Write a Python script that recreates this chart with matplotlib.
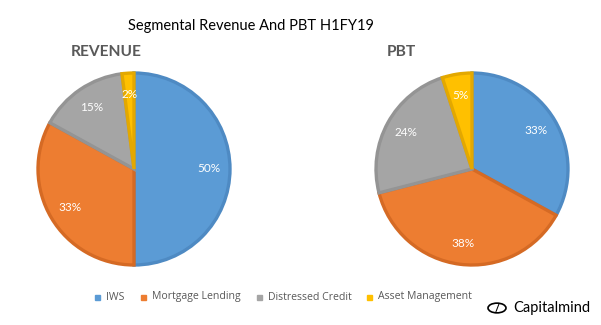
import matplotlib.pyplot as plt
from matplotlib.patches import Circle

segments = ['IWS', 'Mortgage Lending', 'Distressed Credit', 'Asset Management']
revenue_share = [50, 33, 15, 2]
pbt_share = [33, 38, 24, 5]

fill_colors = ['#5B9BD5', '#ED7D31', '#A5A5A5', '#FFC000']
edge_colors = ['#4E8AC3', '#D56A24', '#949494', '#E3A800']

W, H = 601, 325
fig = plt.figure(figsize=(W / 100, H / 100), dpi=100)
plt.rcParams['font.family'] = ['Lato', 'DejaVu Sans']


def draw_pie(cx, cy, values, r=96, box=100):
    # pie axes placed in pixel coordinates, y measured from the top
    ax = fig.add_axes([(cx - box) / W, 1 - (cy + box) / H, 2 * box / W, 2 * box / H])
    wedges, texts, autotexts = ax.pie(
        values, colors=fill_colors, startangle=90, counterclock=False,
        autopct=lambda p: f'{p:.0f}%', pctdistance=0.78,
        wedgeprops=dict(linewidth=2.4),
        textprops=dict(color='white', fontsize=8.5))
    for w, ec in zip(wedges, edge_colors):
        w.set_edgecolor(ec)
    lim = box / r
    ax.set_xlim(-lim, lim)
    ax.set_ylim(-lim, lim)
    ax.set_aspect('equal')
    ax.axis('off')
    return ax


draw_pie(134, 169, revenue_share)
draw_pie(472, 169, pbt_share)

fig.text(251 / W, 1 - 26 / H, 'Segmental Revenue And PBT H1FY19',
         ha='center', va='center', fontsize=10.5, color='black')
fig.text(106 / W, 1 - 52 / H, 'REVENUE', ha='center', va='center',
         fontsize=11.2, fontweight='bold', color='#595959')
fig.text(401 / W, 1 - 52 / H, 'PBT', ha='center', va='center',
         fontsize=11.2, fontweight='bold', color='#595959')

# legend along the bottom
legend_x = [97, 143, 259, 369]
for x, name, c in zip(legend_x, segments, fill_colors):
    fig.patches.append(plt.Rectangle(((x - 2.5) / W, 1 - 300 / H), 5 / W, 5 / H,
                                     transform=fig.transFigure, color=c))
    fig.text((x + 9) / W, 1 - 297 / H, name, ha='left', va='center',
             fontsize=7.6, color='#595959', family=['Open Sans', 'DejaVu Sans'])

# brand mark
fig.patches.append(Circle((497 / W, 1 - 308 / H), 9 / W, transform=fig.transFigure,
                          fill=False, edgecolor='black', linewidth=1.2))
fig.text(497 / W, 1 - 308 / H, '/', ha='center', va='center', fontsize=8,
         color='black', fontweight='bold')
fig.text(513 / W, 1 - 308 / H, 'Capitalmind', ha='left', va='center',
         fontsize=10.5, color='black')

fig.savefig('out.png', dpi=100, facecolor='white')
